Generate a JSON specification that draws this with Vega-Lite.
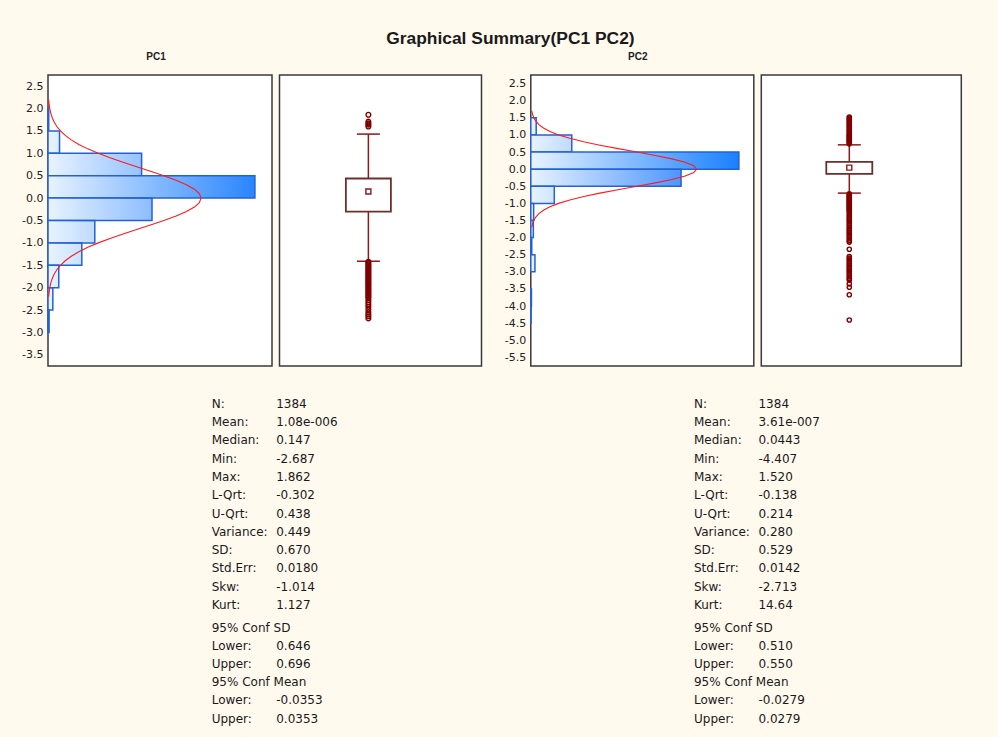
{
  "$schema": "https://vega.github.io/schema/vega-lite/v6.json",
  "background": "#FFF9EE",
  "padding": {"left": 20, "top": 29, "right": 37, "bottom": 13},
  "title": {
    "text": "Graphical Summary(PC1 PC2)",
    "font": "Liberation Sans",
    "fontSize": 17.4,
    "fontWeight": "bold",
    "color": "#1a1a1a",
    "anchor": "middle",
    "dx": 19,
    "offset": 4
  },
  "datasets": {
    "hist1": [
      {"lo": 1.5, "hi": 2.0, "n": 2},
      {"lo": 1.0, "hi": 1.5, "n": 31},
      {"lo": 0.5, "hi": 1.0, "n": 252},
      {"lo": 0.0, "hi": 0.5, "n": 557},
      {"lo": -0.5, "hi": 0.0, "n": 280},
      {"lo": -1.0, "hi": -0.5, "n": 126},
      {"lo": -1.5, "hi": -1.0, "n": 91},
      {"lo": -2.0, "hi": -1.5, "n": 29},
      {"lo": -2.5, "hi": -2.0, "n": 13},
      {"lo": -3.0, "hi": -2.5, "n": 3}
    ],
    "hist2": [
      {"lo": 1.0, "hi": 1.5, "n": 17},
      {"lo": 0.5, "hi": 1.0, "n": 129},
      {"lo": 0.0, "hi": 0.5, "n": 655},
      {"lo": -0.5, "hi": 0.0, "n": 473},
      {"lo": -1.0, "hi": -0.5, "n": 74},
      {"lo": -1.5, "hi": -1.0, "n": 9},
      {"lo": -2.0, "hi": -1.5, "n": 8},
      {"lo": -2.5, "hi": -2.0, "n": 3},
      {"lo": -3.0, "hi": -2.5, "n": 13},
      {"lo": -4.0, "hi": -3.5, "n": 2},
      {"lo": -4.5, "hi": -4.0, "n": 1}
    ],
    "curve1": [
      {"y": 2.2, "n": 1.9}, {"y": 2.1, "n": 3.0}, {"y": 2.0, "n": 4.8}, {"y": 1.9, "n": 7.4},
      {"y": 1.8, "n": 11.2}, {"y": 1.7, "n": 16.5}, {"y": 1.6, "n": 23.8}, {"y": 1.5, "n": 33.6},
      {"y": 1.4, "n": 46.4}, {"y": 1.3, "n": 62.7}, {"y": 1.2, "n": 82.9}, {"y": 1.1, "n": 107.1},
      {"y": 1.0, "n": 135.3}, {"y": 0.9, "n": 167.2}, {"y": 0.8, "n": 202.0}, {"y": 0.7, "n": 238.7},
      {"y": 0.6, "n": 275.9}, {"y": 0.5, "n": 311.9}, {"y": 0.4, "n": 344.8}, {"y": 0.3, "n": 372.7},
      {"y": 0.2, "n": 394.1}, {"y": 0.1, "n": 407.4}, {"y": 0.0, "n": 412.0},
      {"y": -0.1, "n": 407.4}, {"y": -0.2, "n": 394.1}, {"y": -0.3, "n": 372.7}, {"y": -0.4, "n": 344.8},
      {"y": -0.5, "n": 311.9}, {"y": -0.6, "n": 275.9}, {"y": -0.7, "n": 238.7}, {"y": -0.8, "n": 202.0},
      {"y": -0.9, "n": 167.2}, {"y": -1.0, "n": 135.3}, {"y": -1.1, "n": 107.1}, {"y": -1.2, "n": 82.9},
      {"y": -1.3, "n": 62.7}, {"y": -1.4, "n": 46.4}, {"y": -1.5, "n": 33.6}, {"y": -1.6, "n": 23.8},
      {"y": -1.7, "n": 16.5}, {"y": -1.8, "n": 11.2}, {"y": -1.9, "n": 7.4}, {"y": -2.0, "n": 4.8},
      {"y": -2.1, "n": 3.0}, {"y": -2.2, "n": 1.9}
    ],
    "curve2": [
      {"y": 1.7, "n": 3.0}, {"y": 1.6, "n": 5.4}, {"y": 1.5, "n": 9.4}, {"y": 1.4, "n": 15.8},
      {"y": 1.3, "n": 25.5}, {"y": 1.2, "n": 39.9}, {"y": 1.1, "n": 60.2}, {"y": 1.0, "n": 87.5},
      {"y": 0.9, "n": 122.9}, {"y": 0.8, "n": 166.5}, {"y": 0.7, "n": 217.6}, {"y": 0.6, "n": 274.5},
      {"y": 0.5, "n": 334.0}, {"y": 0.4, "n": 392.3}, {"y": 0.3, "n": 444.5}, {"y": 0.2, "n": 486.0},
      {"y": 0.1, "n": 512.8}, {"y": 0.0, "n": 522.0},
      {"y": -0.1, "n": 512.8}, {"y": -0.2, "n": 486.0}, {"y": -0.3, "n": 444.5}, {"y": -0.4, "n": 392.3},
      {"y": -0.5, "n": 334.0}, {"y": -0.6, "n": 274.5}, {"y": -0.7, "n": 217.6}, {"y": -0.8, "n": 166.5},
      {"y": -0.9, "n": 122.9}, {"y": -1.0, "n": 87.5}, {"y": -1.1, "n": 60.2}, {"y": -1.2, "n": 39.9},
      {"y": -1.3, "n": 25.5}, {"y": -1.4, "n": 15.8}, {"y": -1.5, "n": 9.4}, {"y": -1.6, "n": 5.4},
      {"y": -1.7, "n": 3.0}
    ],
    "box": [
      {"var": "PC1", "q1": -0.302, "q3": 0.438, "med": 0.147, "lo": -1.41, "hi": 1.43},
      {"var": "PC2", "q1": -0.138, "q3": 0.214, "med": 0.0443, "lo": -0.70, "hi": 0.71}
    ],
    "out": [
      {"var": "PC1", "v": 1.862}, {"var": "PC1", "v": 1.71}, {"var": "PC1", "v": 1.67}, {"var": "PC1", "v": 1.64}, {"var": "PC1", "v": 1.60},
      {"var": "PC1", "v": -1.42}, {"var": "PC1", "v": -1.45}, {"var": "PC1", "v": -1.48}, {"var": "PC1", "v": -1.51},
      {"var": "PC1", "v": -1.54}, {"var": "PC1", "v": -1.57}, {"var": "PC1", "v": -1.60}, {"var": "PC1", "v": -1.63},
      {"var": "PC1", "v": -1.66}, {"var": "PC1", "v": -1.69}, {"var": "PC1", "v": -1.72}, {"var": "PC1", "v": -1.75},
      {"var": "PC1", "v": -1.78}, {"var": "PC1", "v": -1.81}, {"var": "PC1", "v": -1.84}, {"var": "PC1", "v": -1.87},
      {"var": "PC1", "v": -1.90}, {"var": "PC1", "v": -1.93}, {"var": "PC1", "v": -1.96}, {"var": "PC1", "v": -1.99},
      {"var": "PC1", "v": -2.02}, {"var": "PC1", "v": -2.05}, {"var": "PC1", "v": -2.08}, {"var": "PC1", "v": -2.11},
      {"var": "PC1", "v": -2.14}, {"var": "PC1", "v": -2.17}, {"var": "PC1", "v": -2.20}, {"var": "PC1", "v": -2.23},
      {"var": "PC1", "v": -2.28}, {"var": "PC1", "v": -2.33}, {"var": "PC1", "v": -2.38}, {"var": "PC1", "v": -2.43},
      {"var": "PC1", "v": -2.49}, {"var": "PC1", "v": -2.55}, {"var": "PC1", "v": -2.60}, {"var": "PC1", "v": -2.64},
      {"var": "PC1", "v": -2.687},
      {"var": "PC2", "v": 0.74}, {"var": "PC2", "v": 0.77}, {"var": "PC2", "v": 0.80}, {"var": "PC2", "v": 0.83},
      {"var": "PC2", "v": 0.86}, {"var": "PC2", "v": 0.89}, {"var": "PC2", "v": 0.92}, {"var": "PC2", "v": 0.95},
      {"var": "PC2", "v": 0.98}, {"var": "PC2", "v": 1.01}, {"var": "PC2", "v": 1.05}, {"var": "PC2", "v": 1.09},
      {"var": "PC2", "v": 1.13}, {"var": "PC2", "v": 1.17}, {"var": "PC2", "v": 1.21}, {"var": "PC2", "v": 1.25},
      {"var": "PC2", "v": 1.29}, {"var": "PC2", "v": 1.33}, {"var": "PC2", "v": 1.37}, {"var": "PC2", "v": 1.41},
      {"var": "PC2", "v": 1.45}, {"var": "PC2", "v": 1.49}, {"var": "PC2", "v": 1.52},
      {"var": "PC2", "v": -0.72}, {"var": "PC2", "v": -0.75}, {"var": "PC2", "v": -0.78}, {"var": "PC2", "v": -0.81},
      {"var": "PC2", "v": -0.84}, {"var": "PC2", "v": -0.87}, {"var": "PC2", "v": -0.90}, {"var": "PC2", "v": -0.93},
      {"var": "PC2", "v": -0.96}, {"var": "PC2", "v": -0.99}, {"var": "PC2", "v": -1.02}, {"var": "PC2", "v": -1.05},
      {"var": "PC2", "v": -1.08}, {"var": "PC2", "v": -1.11}, {"var": "PC2", "v": -1.14}, {"var": "PC2", "v": -1.17},
      {"var": "PC2", "v": -1.20}, {"var": "PC2", "v": -1.24}, {"var": "PC2", "v": -1.29}, {"var": "PC2", "v": -1.34},
      {"var": "PC2", "v": -1.39}, {"var": "PC2", "v": -1.44}, {"var": "PC2", "v": -1.49}, {"var": "PC2", "v": -1.54},
      {"var": "PC2", "v": -1.59}, {"var": "PC2", "v": -1.64}, {"var": "PC2", "v": -1.69}, {"var": "PC2", "v": -1.74},
      {"var": "PC2", "v": -1.79}, {"var": "PC2", "v": -1.84}, {"var": "PC2", "v": -1.89}, {"var": "PC2", "v": -1.94},
      {"var": "PC2", "v": -1.99}, {"var": "PC2", "v": -2.04}, {"var": "PC2", "v": -2.09}, {"var": "PC2", "v": -2.13},
      {"var": "PC2", "v": -2.34}, {"var": "PC2", "v": -2.55}, {"var": "PC2", "v": -2.60}, {"var": "PC2", "v": -2.65},
      {"var": "PC2", "v": -2.70}, {"var": "PC2", "v": -2.75}, {"var": "PC2", "v": -2.80}, {"var": "PC2", "v": -2.85},
      {"var": "PC2", "v": -2.90}, {"var": "PC2", "v": -2.95}, {"var": "PC2", "v": -3.00}, {"var": "PC2", "v": -3.05},
      {"var": "PC2", "v": -3.10}, {"var": "PC2", "v": -3.15}, {"var": "PC2", "v": -3.20}, {"var": "PC2", "v": -3.24},
      {"var": "PC2", "v": -3.35}, {"var": "PC2", "v": -3.45}, {"var": "PC2", "v": -3.67}, {"var": "PC2", "v": -4.407}
    ],
    "stats": [
      {"var": "PC1", "block": 1, "line": 0, "label": "N:", "value": "1384"},
      {"var": "PC1", "block": 1, "line": 1, "label": "Mean:", "value": "1.08e-006"},
      {"var": "PC1", "block": 1, "line": 2, "label": "Median:", "value": "0.147"},
      {"var": "PC1", "block": 1, "line": 3, "label": "Min:", "value": "-2.687"},
      {"var": "PC1", "block": 1, "line": 4, "label": "Max:", "value": "1.862"},
      {"var": "PC1", "block": 1, "line": 5, "label": "L-Qrt:", "value": "-0.302"},
      {"var": "PC1", "block": 1, "line": 6, "label": "U-Qrt:", "value": "0.438"},
      {"var": "PC1", "block": 1, "line": 7, "label": "Variance:", "value": "0.449"},
      {"var": "PC1", "block": 1, "line": 8, "label": "SD:", "value": "0.670"},
      {"var": "PC1", "block": 1, "line": 9, "label": "Std.Err:", "value": "0.0180"},
      {"var": "PC1", "block": 1, "line": 10, "label": "Skw:", "value": "-1.014"},
      {"var": "PC1", "block": 1, "line": 11, "label": "Kurt:", "value": "1.127"},
      {"var": "PC1", "block": 2, "line": 0, "label": "95% Conf SD", "value": ""},
      {"var": "PC1", "block": 2, "line": 1, "label": "Lower:", "value": "0.646"},
      {"var": "PC1", "block": 2, "line": 2, "label": "Upper:", "value": "0.696"},
      {"var": "PC1", "block": 2, "line": 3, "label": "95% Conf Mean", "value": ""},
      {"var": "PC1", "block": 2, "line": 4, "label": "Lower:", "value": "-0.0353"},
      {"var": "PC1", "block": 2, "line": 5, "label": "Upper:", "value": "0.0353"},
      {"var": "PC2", "block": 1, "line": 0, "label": "N:", "value": "1384"},
      {"var": "PC2", "block": 1, "line": 1, "label": "Mean:", "value": "3.61e-007"},
      {"var": "PC2", "block": 1, "line": 2, "label": "Median:", "value": "0.0443"},
      {"var": "PC2", "block": 1, "line": 3, "label": "Min:", "value": "-4.407"},
      {"var": "PC2", "block": 1, "line": 4, "label": "Max:", "value": "1.520"},
      {"var": "PC2", "block": 1, "line": 5, "label": "L-Qrt:", "value": "-0.138"},
      {"var": "PC2", "block": 1, "line": 6, "label": "U-Qrt:", "value": "0.214"},
      {"var": "PC2", "block": 1, "line": 7, "label": "Variance:", "value": "0.280"},
      {"var": "PC2", "block": 1, "line": 8, "label": "SD:", "value": "0.529"},
      {"var": "PC2", "block": 1, "line": 9, "label": "Std.Err:", "value": "0.0142"},
      {"var": "PC2", "block": 1, "line": 10, "label": "Skw:", "value": "-2.713"},
      {"var": "PC2", "block": 1, "line": 11, "label": "Kurt:", "value": "14.64"},
      {"var": "PC2", "block": 2, "line": 0, "label": "95% Conf SD", "value": ""},
      {"var": "PC2", "block": 2, "line": 1, "label": "Lower:", "value": "0.510"},
      {"var": "PC2", "block": 2, "line": 2, "label": "Upper:", "value": "0.550"},
      {"var": "PC2", "block": 2, "line": 3, "label": "95% Conf Mean", "value": ""},
      {"var": "PC2", "block": 2, "line": 4, "label": "Lower:", "value": "-0.0279"},
      {"var": "PC2", "block": 2, "line": 5, "label": "Upper:", "value": "0.0279"}
    ]
  },
  "spacing": 30.7,
  "resolve": {"scale": {"x": "independent", "y": "independent", "color": "independent"}},
  "vconcat": [
    {
      "spacing": 19.8,
      "resolve": {"scale": {"x": "independent", "y": "independent", "color": "independent"}},
      "hconcat": [
        {
          "spacing": 5.5,
          "resolve": {"scale": {"x": "independent", "y": "independent", "color": "independent"}},
          "hconcat": [
            {
              "width": 224,
              "height": 291,
              "title": {"text": "PC1", "font": "Liberation Sans", "fontSize": 10, "fontWeight": "bold", "color": "#222", "frame": "group", "anchor": "middle", "dx": -4, "offset": 13},
              "layer": [
                {
                  "data": {"name": "hist1"},
                  "mark": {"type": "rect"},
                  "encoding": {
                    "y": {"field": "lo", "type": "quantitative",
                          "scale": {"domain": [-3.75, 2.75], "nice": false, "zero": false},
                          "axis": {"values": [2.5, 2, 1.5, 1, 0.5, 0, -0.5, -1, -1.5, -2, -2.5, -3, -3.5],
                                   "tickCount": 40,
                                   "labelOverlap": false,
                                   "labelExpr": "(datum.value < 0 ? '-' : '') + format(abs(datum.value), '.1f')"}},
                    "y2": {"field": "hi"},
                    "x": {"field": "n", "type": "quantitative", "scale": {"domain": [0, 603], "nice": false}, "axis": null},
                    "x2": {"datum": 0},
                    "color": {"field": "n", "type": "quantitative",
                              "scale": {"domain": [0, 580], "range": ["#E8F3FF", "#1A80FF"], "clamp": true}, "legend": null}
                  }
                },
                {
                  "data": {"name": "hist1"},
                  "mark": {"type": "rect", "stroke": "#2462D4", "strokeWidth": 1.5,
                           "fill": {"gradient": "linear", "stops": [
                             {"offset": 0, "color": "rgba(232,243,255,1)"},
                             {"offset": 1, "color": "rgba(232,243,255,0)"}]}},
                  "encoding": {
                    "y": {"field": "lo", "type": "quantitative"},
                    "y2": {"field": "hi"},
                    "x": {"field": "n", "type": "quantitative"},
                    "x2": {"datum": 0}
                  }
                },
                {
                  "data": {"name": "curve1"},
                  "mark": {"type": "line", "color": "#FF1A1A", "strokeWidth": 1.1},
                  "encoding": {
                    "y": {"field": "y", "type": "quantitative"},
                    "x": {"field": "n", "type": "quantitative"},
                    "order": {"field": "y", "type": "quantitative"}
                  }
                }
              ]
            },
            {
              "width": 202,
              "height": 291,
              "layer": [
                {
                  "data": {"name": "box"},
                  "transform": [{"filter": "datum.var == 'PC1'"}],
                  "mark": {"type": "rule", "color": "#8B1A1A", "strokeWidth": 1.5},
                  "encoding": {
                    "x": {"field": "var", "type": "nominal", "scale": {"type": "band", "paddingInner": 0, "paddingOuter": 1, "align": 0.41}, "axis": null},
                    "y": {"field": "lo", "type": "quantitative", "scale": {"domain": [-3.75, 2.75], "nice": false, "zero": false}, "axis": null},
                    "y2": {"field": "hi"}
                  }
                },
                {
                  "data": {"name": "box"},
                  "transform": [{"filter": "datum.var == 'PC1'"}],
                  "mark": {"type": "bar", "size": 45, "fill": "white", "stroke": "#6E2E2E", "strokeWidth": 1.8},
                  "encoding": {
                    "x": {"field": "var", "type": "nominal"},
                    "y": {"field": "q1", "type": "quantitative"},
                    "y2": {"field": "q3"}
                  }
                },
                {
                  "data": {"name": "box"},
                  "transform": [{"filter": "datum.var == 'PC1'"}],
                  "mark": {"type": "tick", "size": 23, "thickness": 1.5, "color": "#8B1A1A", "opacity": 1},
                  "encoding": {
                    "x": {"field": "var", "type": "nominal"},
                    "y": {"field": "lo", "type": "quantitative"}
                  }
                },
                {
                  "data": {"name": "box"},
                  "transform": [{"filter": "datum.var == 'PC1'"}],
                  "mark": {"type": "tick", "size": 23, "thickness": 1.5, "color": "#8B1A1A", "opacity": 1},
                  "encoding": {
                    "x": {"field": "var", "type": "nominal"},
                    "y": {"field": "hi", "type": "quantitative"}
                  }
                },
                {
                  "data": {"name": "box"},
                  "transform": [{"filter": "datum.var == 'PC1'"}],
                  "mark": {"type": "point", "shape": "square", "size": 25, "filled": false, "color": "#8B1A1A", "strokeWidth": 1.4, "opacity": 1},
                  "encoding": {
                    "x": {"field": "var", "type": "nominal"},
                    "y": {"field": "med", "type": "quantitative"}
                  }
                },
                {
                  "data": {"name": "out"},
                  "transform": [{"filter": "datum.var == 'PC1'"}],
                  "mark": {"type": "point", "shape": "circle", "size": 22, "filled": false, "color": "#800000", "strokeWidth": 1.4, "opacity": 1},
                  "encoding": {
                    "x": {"field": "var", "type": "nominal"},
                    "y": {"field": "v", "type": "quantitative"}
                  }
                }
              ]
            }
          ]
        },
        {
          "spacing": 5.5,
          "resolve": {"scale": {"x": "independent", "y": "independent", "color": "independent"}},
          "hconcat": [
            {
              "width": 223,
              "height": 291,
              "title": {"text": "PC2", "font": "Liberation Sans", "fontSize": 10, "fontWeight": "bold", "color": "#222", "frame": "group", "anchor": "middle", "dx": -4.5, "offset": 13},
              "layer": [
                {
                  "data": {"name": "hist2"},
                  "mark": {"type": "rect"},
                  "encoding": {
                    "y": {"field": "lo", "type": "quantitative",
                          "scale": {"domain": [-5.75, 2.75], "nice": false, "zero": false},
                          "axis": {"values": [2.5, 2, 1.5, 1, 0.5, 0, -0.5, -1, -1.5, -2, -2.5, -3, -3.5, -4, -4.5, -5, -5.5],
                                   "tickCount": 40,
                                   "labelOverlap": false,
                                   "labelExpr": "(datum.value < 0 ? '-' : '') + format(abs(datum.value), '.1f')"}},
                    "y2": {"field": "hi"},
                    "x": {"field": "n", "type": "quantitative", "scale": {"domain": [0, 702], "nice": false}, "axis": null},
                    "x2": {"datum": 0},
                    "color": {"field": "n", "type": "quantitative",
                              "scale": {"domain": [0, 580], "range": ["#E8F3FF", "#1A80FF"], "clamp": true}, "legend": null}
                  }
                },
                {
                  "data": {"name": "hist2"},
                  "mark": {"type": "rect", "stroke": "#2462D4", "strokeWidth": 1.5,
                           "fill": {"gradient": "linear", "stops": [
                             {"offset": 0, "color": "rgba(232,243,255,1)"},
                             {"offset": 1, "color": "rgba(232,243,255,0)"}]}},
                  "encoding": {
                    "y": {"field": "lo", "type": "quantitative"},
                    "y2": {"field": "hi"},
                    "x": {"field": "n", "type": "quantitative"},
                    "x2": {"datum": 0}
                  }
                },
                {
                  "data": {"name": "curve2"},
                  "mark": {"type": "line", "color": "#FF1A1A", "strokeWidth": 1.1},
                  "encoding": {
                    "y": {"field": "y", "type": "quantitative"},
                    "x": {"field": "n", "type": "quantitative"},
                    "order": {"field": "y", "type": "quantitative"}
                  }
                }
              ]
            },
            {
              "width": 200,
              "height": 291,
              "layer": [
                {
                  "data": {"name": "box"},
                  "transform": [{"filter": "datum.var == 'PC2'"}],
                  "mark": {"type": "rule", "color": "#8B1A1A", "strokeWidth": 1.5},
                  "encoding": {
                    "x": {"field": "var", "type": "nominal", "scale": {"type": "band", "paddingInner": 0, "paddingOuter": 1, "align": 0.41}, "axis": null},
                    "y": {"field": "lo", "type": "quantitative", "scale": {"domain": [-5.75, 2.75], "nice": false, "zero": false}, "axis": null},
                    "y2": {"field": "hi"}
                  }
                },
                {
                  "data": {"name": "box"},
                  "transform": [{"filter": "datum.var == 'PC2'"}],
                  "mark": {"type": "bar", "size": 46, "fill": "white", "stroke": "#6E2E2E", "strokeWidth": 1.8},
                  "encoding": {
                    "x": {"field": "var", "type": "nominal"},
                    "y": {"field": "q1", "type": "quantitative"},
                    "y2": {"field": "q3"}
                  }
                },
                {
                  "data": {"name": "box"},
                  "transform": [{"filter": "datum.var == 'PC2'"}],
                  "mark": {"type": "tick", "size": 23, "thickness": 1.5, "color": "#8B1A1A", "opacity": 1},
                  "encoding": {
                    "x": {"field": "var", "type": "nominal"},
                    "y": {"field": "lo", "type": "quantitative"}
                  }
                },
                {
                  "data": {"name": "box"},
                  "transform": [{"filter": "datum.var == 'PC2'"}],
                  "mark": {"type": "tick", "size": 23, "thickness": 1.5, "color": "#8B1A1A", "opacity": 1},
                  "encoding": {
                    "x": {"field": "var", "type": "nominal"},
                    "y": {"field": "hi", "type": "quantitative"}
                  }
                },
                {
                  "data": {"name": "box"},
                  "transform": [{"filter": "datum.var == 'PC2'"}],
                  "mark": {"type": "point", "shape": "square", "size": 25, "filled": false, "color": "#8B1A1A", "strokeWidth": 1.4, "opacity": 1},
                  "encoding": {
                    "x": {"field": "var", "type": "nominal"},
                    "y": {"field": "med", "type": "quantitative"}
                  }
                },
                {
                  "data": {"name": "out"},
                  "transform": [{"filter": "datum.var == 'PC2'"}],
                  "mark": {"type": "point", "shape": "circle", "size": 18, "filled": false, "color": "#800000", "strokeWidth": 1.4, "opacity": 1},
                  "encoding": {
                    "x": {"field": "var", "type": "nominal"},
                    "y": {"field": "v", "type": "quantitative"}
                  }
                }
              ]
            }
          ]
        }
      ]
    },
    {
      "spacing": 9.8,
      "resolve": {"scale": {"x": "independent", "y": "independent"}},
      "vconcat": [
        {
          "width": 914,
          "height": 201.3,
          "view": {"stroke": null, "fill": null},
          "data": {"name": "stats"},
          "transform": [{"filter": "datum.block == 1"}],
          "encoding": {
            "x": {"field": "var", "type": "nominal", "scale": {"type": "point", "padding": 0.4476, "align": 0.3792}, "axis": null},
            "y": {"field": "line", "type": "ordinal", "scale": {"type": "point", "padding": 0}, "axis": null}
          },
          "layer": [
            {"mark": {"type": "text", "align": "left", "baseline": "middle", "font": "DejaVu Sans", "fontSize": 12, "color": "#1a1a1a"},
             "encoding": {"text": {"field": "label"}}},
            {"mark": {"type": "text", "align": "left", "baseline": "middle", "font": "DejaVu Sans", "fontSize": 12, "color": "#1a1a1a", "dx": 64.5},
             "encoding": {"text": {"field": "value"}}}
          ]
        },
        {
          "width": 914,
          "height": 91,
          "view": {"stroke": null, "fill": null},
          "data": {"name": "stats"},
          "transform": [{"filter": "datum.block == 2"}],
          "encoding": {
            "x": {"field": "var", "type": "nominal", "scale": {"type": "point", "padding": 0.4476, "align": 0.3792}, "axis": null},
            "y": {"field": "line", "type": "ordinal", "scale": {"type": "point", "padding": 0}, "axis": null}
          },
          "layer": [
            {"mark": {"type": "text", "align": "left", "baseline": "middle", "font": "DejaVu Sans", "fontSize": 12, "color": "#1a1a1a"},
             "encoding": {"text": {"field": "label"}}},
            {"mark": {"type": "text", "align": "left", "baseline": "middle", "font": "DejaVu Sans", "fontSize": 12, "color": "#1a1a1a", "dx": 64.5},
             "encoding": {"text": {"field": "value"}}}
          ]
        }
      ]
    }
  ],
  "config": {
    "font": "Liberation Sans",
    "view": {"fill": "white", "stroke": "#3a3a3a", "strokeWidth": 1.5},
    "axis": {
      "domain": false,
      "ticks": false,
      "grid": false,
      "title": null,
      "labelFont": "DejaVu Sans",
      "labelFontSize": 11,
      "labelColor": "#222",
      "labelPadding": 5,
      "labelOverlap": false,
      "labelFlush": false,
      "labelBound": false
    }
  }
}
